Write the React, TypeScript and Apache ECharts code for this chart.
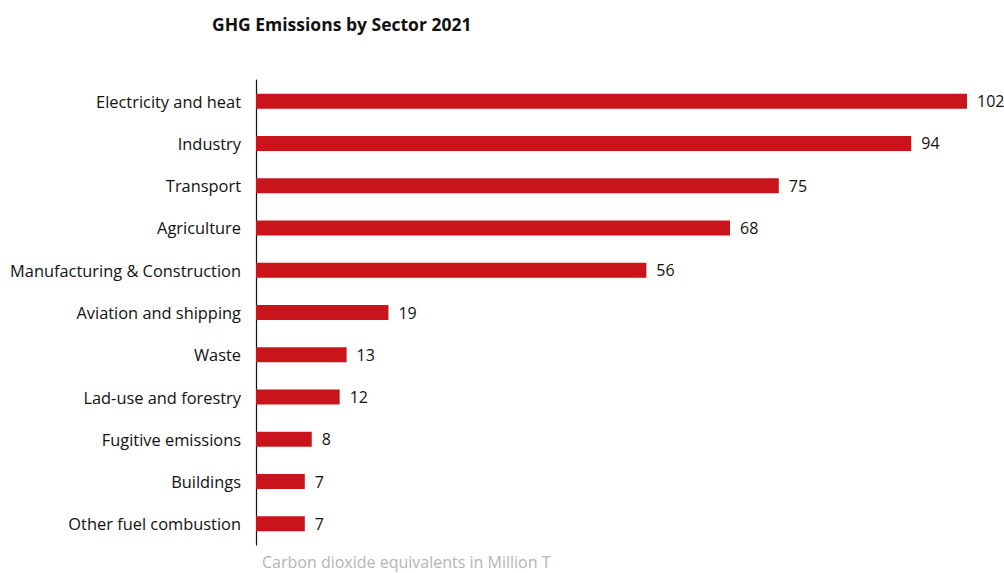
import React, { useEffect, useRef } from "react";
import * as echarts from "echarts";

const categories = [
  "Electricity and heat",
  "Industry",
  "Transport",
  "Agriculture",
  "Manufacturing & Construction",
  "Aviation and shipping",
  "Waste",
  "Lad-use and forestry",
  "Fugitive emissions",
  "Buildings",
  "Other fuel combustion",
];
const values = [102, 94, 75, 68, 56, 19, 13, 12, 8, 7, 7];
const title = "GHG Emissions by Sector 2021";
const axisName = "Carbon dioxide equivalents in Million T";

const FONT = "'Open Sans', 'Noto Sans', sans-serif";

export default function App() {
  const ref = useRef<HTMLDivElement>(null);
  useEffect(() => {
    document.body.style.margin = "0";
    const chart = echarts.init(ref.current!, null, { renderer: "svg" });
    chart.setOption({
      animation: false,
      backgroundColor: "#ffffff",
      textStyle: { fontFamily: FONT },
      title: {
        text: title,
        left: 207,
        top: 10,
        textStyle: { fontSize: 17.5, fontWeight: "bold", color: "#111", fontFamily: FONT },
      },
      grid: { left: 256, right: 37, top: 80, bottom: 28, containLabel: false },
      xAxis: {
        type: "value",
        min: 0,
        max: 102,
        show: false,
        splitLine: { show: false },
      },
      yAxis: {
        type: "category",
        data: categories,
        inverse: true,
        axisLine: { show: true, lineStyle: { color: "#111", width: 1.2 } },
        axisTick: { show: false },
        axisLabel: { color: "#111", fontSize: 16.4, margin: 15, fontFamily: FONT },
      },
      series: [
        {
          type: "bar",
          data: values,
          barWidth: 15,
          itemStyle: { color: "#c8141a" },
          label: {
            show: true,
            position: "right",
            distance: 10,
            color: "#111",
            fontSize: 16,
            fontFamily: FONT,
          },
        },
      ],
      graphic: [
        {
          type: "text",
          left: 262,
          top: 554,
          style: { text: axisName, fill: "#b4b4b4", fontSize: 16, fontFamily: FONT },
        },
      ],
    });
    return () => chart.dispose();
  }, []);
  return <div ref={ref} style={{ width: 1004, height: 573 }} />;
}
